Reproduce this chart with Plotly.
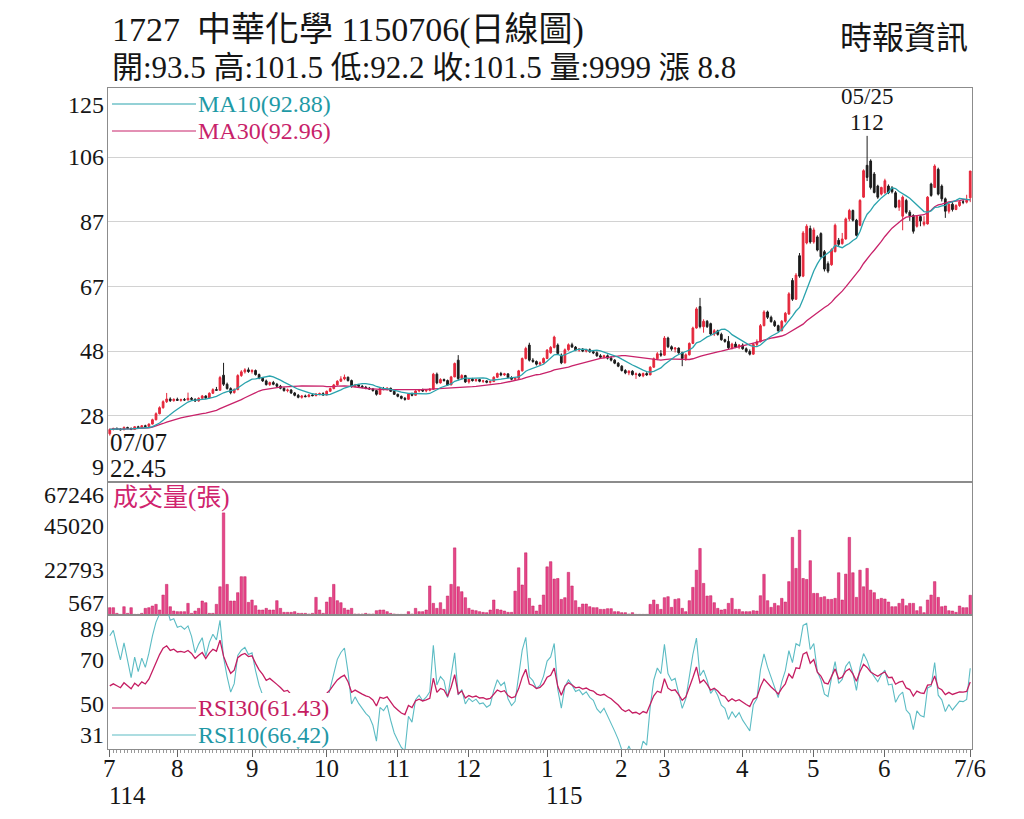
import numpy as np
import pandas as pd
import plotly.graph_objects as go
from plotly.subplots import make_subplots

# ---------------- data ----------------
holidays = ["2025-09-29", "2025-10-06", "2025-10-10", "2025-10-24", "2025-12-25",
            "2026-01-01", "2026-02-12", "2026-02-13", "2026-02-16", "2026-02-17",
            "2026-02-18", "2026-02-19", "2026-02-20", "2026-02-27", "2026-04-03",
            "2026-04-06", "2026-05-01", "2026-06-19"]

opens = [
    23.0, 24.3, 24.6, 24.4, 24.2, 24.9, 24.6, 24.3, 25.1, 24.8,
    25.4, 25.2, 25.9, 27.2, 29.0, 30.8, 32.6, 33.4, 32.9, 33.3,
    33.0, 33.2, 33.1, 33.6, 33.3, 32.8, 33.6, 34.3, 33.7, 35.1,
    36.2, 36.0, 40.5, 37.8, 36.5, 35.3, 36.2, 40.4, 41.5, 42.1,
    41.6, 41.9, 40.7, 39.6, 38.8, 37.7, 38.3, 37.8, 37.2, 36.6,
    35.9, 36.1, 35.2, 34.5, 33.9, 34.3, 34.1, 34.6, 34.4, 34.9,
    35.0, 34.6, 35.7, 36.5, 37.6, 38.7, 39.4, 39.9, 38.9, 37.1,
    37.6, 37.2, 36.9, 36.6, 36.4, 35.9, 34.8, 36.5, 36.3, 36.6,
    35.7, 34.8, 34.2, 33.6, 33.3, 34.9, 34.5, 35.8, 36.1, 35.8,
    36.0, 36.3, 40.8, 38.2, 39.2, 38.9, 37.6, 40.0, 45.0, 39.5,
    40.4, 38.5, 39.3, 38.9, 39.2, 38.7, 38.8, 38.4, 38.6, 39.9,
    41.0, 40.6, 40.9, 39.8, 39.3, 39.6, 41.8, 45.5, 49.5, 45.0,
    44.6, 43.8, 44.2, 45.5, 47.2, 48.8, 49.5, 46.5, 44.2, 48.1,
    49.6, 48.9, 48.0, 48.3, 47.7, 48.1, 47.5, 47.2, 46.3, 45.9,
    46.3, 45.6, 45.0, 44.1, 43.2, 41.9, 41.2, 41.7, 40.7, 40.9,
    40.3, 41.0, 40.6, 42.9, 45.4, 46.9, 46.5, 51.6, 49.0, 48.3,
    48.6, 47.2, 45.5, 46.6, 50.0, 54.6, 61.0, 55.0, 56.6, 55.9,
    52.8, 53.8, 52.7, 51.1, 50.6, 48.7, 49.8, 48.9, 49.5, 48.4,
    47.6, 46.8, 49.7, 50.5, 55.3, 59.4, 57.8, 56.5, 55.3, 53.8,
    56.6, 58.8, 68.8, 63.2, 76.2, 70.1, 80.0, 84.3, 80.3, 81.8,
    82.8, 77.4, 73.8, 73.5, 77.4, 80.8, 79.8, 81.2, 87.2, 89.7,
    86.8, 85.3, 93.7, 103.2, 104.5, 100.6, 97.0, 94.6, 95.0, 97.0,
    96.5, 95.0, 90.7, 88.0, 92.7, 89.2, 88.2, 85.0, 87.9, 85.6,
    85.7, 97.6, 96.6, 102.0, 97.0, 93.2, 89.5, 91.6, 90.0, 91.2,
    92.3, 92.2, 93.5]

highs = [
    24.6, 24.8, 24.9, 24.7, 25.2, 25.1, 24.9, 25.3, 25.4, 25.6,
    25.7, 26.1, 27.5, 29.4, 31.2, 33.0, 35.2, 33.9, 33.6, 33.8,
    33.5, 33.7, 35.3, 34.0, 33.6, 33.9, 34.6, 34.5, 35.4, 36.6,
    37.0, 40.3, 44.2, 38.3, 36.9, 36.6, 40.8, 42.0, 42.6, 42.8,
    42.3, 42.2, 41.0, 39.9, 39.2, 38.6, 38.8, 38.2, 37.6, 36.9,
    36.5, 36.3, 35.5, 34.9, 34.6, 34.7, 34.9, 35.0, 35.1, 35.3,
    35.4, 35.9, 36.8, 37.9, 39.0, 40.2, 40.7, 40.1, 39.2, 37.9,
    37.9, 37.6, 37.3, 37.0, 36.7, 36.1, 36.8, 37.0, 36.9, 36.8,
    35.9, 35.0, 34.4, 34.0, 35.1, 35.3, 36.0, 36.4, 36.5, 36.3,
    36.6, 41.2, 41.3, 39.6, 39.5, 39.2, 40.3, 44.3, 46.5, 40.8,
    40.6, 39.6, 39.7, 39.5, 39.4, 39.1, 39.0, 38.9, 40.2, 41.3,
    41.5, 41.2, 41.1, 40.2, 39.9, 42.1, 45.8, 49.0, 50.2, 45.6,
    44.9, 44.6, 45.8, 48.3, 49.2, 52.3, 50.0, 47.0, 48.5, 50.0,
    50.2, 49.2, 48.6, 48.6, 48.4, 48.5, 47.9, 47.6, 46.8, 46.6,
    46.7, 46.2, 45.3, 44.4, 43.5, 42.3, 42.0, 42.0, 41.3, 41.2,
    41.3, 41.4, 43.2, 45.8, 47.4, 48.0, 52.2, 52.0, 49.4, 48.9,
    48.8, 47.5, 47.0, 50.3, 55.0, 60.8, 63.6, 57.2, 57.0, 56.2,
    54.3, 54.1, 53.2, 51.4, 52.2, 50.2, 50.5, 49.8, 50.0, 48.8,
    48.2, 50.1, 51.2, 55.8, 59.9, 59.8, 58.3, 57.0, 55.6, 57.0,
    59.4, 65.3, 69.5, 71.0, 77.0, 83.6, 85.6, 85.2, 84.6, 82.3,
    83.2, 77.9, 74.5, 78.4, 85.8, 81.5, 83.0, 87.6, 90.2, 90.0,
    87.2, 93.1, 102.0, 112.0, 105.0, 101.2, 97.4, 96.8, 99.2, 97.5,
    97.0, 95.5, 93.0, 94.2, 93.2, 89.8, 88.6, 88.3, 88.2, 88.0,
    94.0, 98.0, 103.5, 102.5, 97.5, 93.6, 92.3, 92.2, 91.6, 92.6,
    93.0, 94.4, 101.5]

lows = [
    22.45, 24.0, 24.2, 24.0, 24.1, 24.4, 24.1, 24.2, 24.6, 24.7,
    25.0, 25.1, 25.8, 27.0, 28.8, 30.5, 32.2, 32.5, 32.6, 32.8,
    32.6, 32.8, 33.0, 33.0, 32.5, 32.6, 33.4, 33.4, 33.6, 34.9,
    35.8, 35.9, 37.3, 36.2, 34.8, 35.0, 36.0, 40.0, 41.0, 41.2,
    41.0, 40.4, 39.3, 38.5, 37.4, 37.3, 37.5, 36.9, 36.3, 35.6,
    35.4, 34.9, 34.2, 33.6, 33.5, 33.9, 33.9, 34.2, 34.2, 34.5,
    34.3, 34.5, 35.5, 36.3, 37.4, 38.5, 39.0, 38.6, 36.8, 36.9,
    36.9, 36.6, 36.3, 36.1, 35.6, 34.4, 34.7, 36.0, 35.9, 35.5,
    34.6, 33.9, 33.3, 32.9, 33.2, 34.2, 34.4, 35.4, 35.5, 35.4,
    35.7, 36.2, 37.8, 38.0, 38.6, 37.3, 37.5, 39.9, 39.0, 39.2,
    38.2, 38.0, 38.6, 38.5, 38.4, 38.2, 38.1, 38.0, 38.5, 39.7,
    40.2, 40.3, 39.6, 39.0, 38.9, 39.4, 41.6, 45.2, 44.6, 44.2,
    43.4, 43.5, 44.0, 45.3, 46.9, 48.5, 46.8, 43.8, 44.0, 47.8,
    48.7, 47.7, 47.5, 47.4, 47.3, 47.2, 46.8, 46.0, 45.6, 45.5,
    45.2, 44.6, 43.8, 42.9, 41.6, 40.8, 40.5, 40.4, 39.4, 40.0,
    39.9, 40.3, 40.5, 42.7, 45.0, 46.0, 46.3, 48.6, 47.8, 47.3,
    46.9, 43.2, 44.8, 46.4, 49.8, 54.4, 54.5, 53.2, 54.6, 52.4,
    52.2, 52.3, 50.8, 50.2, 48.3, 48.2, 48.6, 48.3, 48.1, 47.2,
    46.4, 46.6, 49.2, 50.3, 55.1, 57.3, 56.2, 54.9, 53.3, 53.6,
    56.2, 58.5, 62.7, 63.0, 69.6, 69.8, 79.6, 79.8, 79.8, 77.5,
    75.6, 71.5, 71.0, 73.2, 77.2, 79.0, 79.5, 81.0, 86.5, 86.4,
    82.0, 85.0, 93.5, 98.5, 96.0, 94.8, 93.2, 94.2, 94.7, 94.6,
    94.8, 90.4, 89.6, 83.8, 88.7, 86.6, 82.8, 84.6, 85.0, 85.0,
    85.5, 93.8, 96.4, 94.2, 92.4, 87.5, 88.8, 89.4, 89.8, 90.8,
    91.6, 91.8, 92.2]

closes = [
    24.3, 24.6, 24.4, 24.2, 24.9, 24.6, 24.3, 25.1, 24.8, 25.4,
    25.2, 25.9, 27.2, 29.0, 30.8, 32.6, 33.4, 32.9, 33.3, 33.0,
    33.2, 33.1, 33.6, 33.3, 32.8, 33.6, 34.3, 33.7, 35.1, 36.2,
    36.0, 39.8, 37.8, 36.5, 35.3, 36.2, 40.4, 41.5, 42.1, 41.6,
    41.9, 40.7, 39.6, 38.8, 37.7, 38.3, 37.8, 37.2, 36.6, 35.9,
    36.1, 35.2, 34.5, 33.9, 34.3, 34.1, 34.6, 34.4, 34.9, 35.0,
    34.6, 35.7, 36.5, 37.6, 38.7, 39.4, 39.9, 38.9, 37.1, 37.6,
    37.2, 36.9, 36.6, 36.4, 35.9, 34.8, 36.5, 36.3, 36.6, 35.7,
    34.8, 34.2, 33.6, 33.3, 34.9, 34.5, 35.8, 36.1, 35.8, 36.0,
    36.3, 40.8, 38.2, 39.2, 38.9, 37.6, 40.0, 44.0, 39.5, 40.4,
    38.5, 39.3, 38.9, 39.2, 38.7, 38.8, 38.4, 38.6, 39.9, 41.0,
    40.6, 40.9, 39.8, 39.3, 39.6, 41.8, 45.5, 48.5, 45.0, 44.6,
    43.8, 44.2, 45.5, 48.0, 48.8, 51.9, 47.0, 44.2, 48.1, 49.6,
    48.9, 48.0, 48.3, 47.7, 48.1, 47.5, 47.2, 46.3, 45.9, 46.3,
    45.6, 45.0, 44.1, 43.2, 41.9, 41.2, 41.7, 40.7, 40.9, 40.3,
    41.0, 40.6, 42.9, 45.4, 46.9, 46.5, 51.6, 49.0, 48.3, 48.6,
    47.2, 45.5, 46.6, 50.0, 54.6, 60.3, 55.0, 56.6, 55.0, 52.8,
    53.8, 52.7, 51.1, 50.6, 48.7, 49.8, 48.9, 49.5, 48.4, 47.6,
    46.8, 49.7, 50.5, 55.3, 59.4, 57.8, 56.5, 55.3, 53.8, 56.6,
    59.0, 64.8, 63.2, 70.4, 70.1, 83.0, 85.0, 80.3, 83.9, 77.9,
    75.9, 72.2, 71.6, 78.0, 85.3, 79.6, 81.2, 87.2, 89.7, 86.8,
    82.3, 92.7, 101.6, 99.6, 96.6, 95.1, 93.7, 96.6, 98.6, 95.0,
    95.3, 90.7, 92.7, 93.7, 89.2, 88.1, 83.5, 87.9, 86.6, 86.2,
    93.7, 94.2, 103.0, 94.6, 93.2, 89.5, 91.6, 90.0, 91.2, 92.3,
    92.2, 92.7, 101.5]

volumes = [
    3700, 3700, 840, 340, 4200, 840, 3700, 340, 340, 840,
    3370, 3700, 4550, 5400, 2530, 10100, 15500, 4200, 2020, 1690,
    1690, 1690, 5900, 840, 2020, 3370, 7080, 6230, 840, 840,
    5400, 14300, 51700, 15500, 7080, 7080, 11300, 19400, 19400, 6400,
    7580, 4720, 2530, 2530, 3370, 2530, 2530, 7250, 3370, 1350,
    1350, 1350, 1690, 840, 840, 840, 500, 840, 8930, 2530,
    840, 6570, 8930, 15500, 7250, 6230, 3370, 2530, 3370, 500,
    500, 500, 840, 500, 500, 2190, 2530, 2530, 1690, 840,
    500, 340, 340, 340, 1690, 500, 3370, 1690, 1690, 2530,
    14700, 5900, 3370, 6230, 2860, 9600, 15500, 34000, 14300, 11800,
    8760, 3370, 2530, 2190, 1690, 1350, 1180, 2530, 7580, 2860,
    2530, 2020, 1350, 1350, 12100,
    23900, 15200, 31500, 8430, 4550, 2020, 5060, 10100, 24400, 27000,
    18200, 18500, 7920, 8760, 21600, 14700, 7250, 3880, 5560, 5560,
    4210, 3710, 3710, 2860, 2860, 3200, 3200, 1690, 1690, 1180,
    1180, 500, 1180, 340, 340, 340, 340, 5390, 7580, 5390,
    2860, 8760, 9270, 3880, 7920, 8260, 3370, 1690, 7250, 14000,
    22700, 33700, 16000, 9600, 9770, 6230, 3370, 2530, 2860, 5900,
    8430, 2860, 2860, 1690, 1690, 1690, 2190, 2020, 9770, 20600,
    7250, 3880, 5900, 4720, 8430, 6570, 16900, 39300, 23600, 43000,
    18500, 18000, 27500, 10950, 10950, 8930, 9270, 7920, 7920, 8430,
    21400, 7580, 20700, 39300, 21400, 8930, 22700, 14300, 23600, 12600,
    11300, 7920, 8430, 8090, 6570, 4210, 4210, 5900, 8090, 4720,
    5900, 5900, 2190, 4210, 1180, 7580, 10100, 16900, 8930, 4210,
    4550, 2190, 2020, 1350, 4550, 3710, 3710, 9999]

legend_values = {"MA10": 92.88, "MA30": 92.96, "RSI30": 61.43, "RSI10": 66.42}

# starting state (average gain, average loss) of the RSI smoothing, matched to the
# first RSI values visible in the reference (RSI10 ~80, RSI30 ~58)
rsi_start = {10: (0.20, 0.05), 30: (0.28, 0.20)}

price_tick_labels = ["9", "28", "48", "67", "87", "106", "125"]
volume_tick_labels = ["567", "22793", "45020", "67246"]
rsi_tick_labels = ["31", "50", "70", "89"]

# ---------------- derived series ----------------
n = len(closes)
idx = list(range(n))
dates = pd.bdate_range("2025-07-07", "2026-07-06")
dates = dates[~dates.isin(pd.to_datetime(holidays))][:n]

cs = pd.Series(closes)
ma10 = cs.rolling(10, min_periods=1).mean()
ma30 = cs.rolling(30, min_periods=1).mean()


def rsi(values, p):
    au, ad = rsi_start[p]
    out = [100 * au / (au + ad)]
    for k in range(1, len(values)):
        d = values[k] - values[k - 1]
        au = (au * (p - 1) + max(d, 0)) / p
        ad = (ad * (p - 1) + max(-d, 0)) / p
        out.append(100 * au / (au + ad))
    return out


rsi10 = rsi(closes, 10)
rsi30 = rsi(closes, 30)

# ---------------- styling ----------------
FONT = "Liberation Serif, 'Noto Sans CJK TC', serif"
RED = "#e5283c"
BLK = "#1c1c1c"
TEAL = "#2aa3ad"
MAG = "#c8226a"
RSI_T = "#5cbcc4"
RSI_M = "#c51d62"
PINK = "#e6468a"
PINK_D = "#c2185b"
AX = "#8c8c8c"

W, Hh = 1024, 819
L, R, T, B = 108, 972, 88, 749


def px(x):
    return (x - L) / (R - L)


def py(y):
    return (B - y) / (B - T)


fig = make_subplots(rows=3, cols=1, shared_xaxes=True, vertical_spacing=0,
                    row_heights=[394 / 661, 133 / 661, 134 / 661])

fig.add_trace(go.Candlestick(
    x=idx, open=opens, high=highs, low=lows, close=closes,
    increasing=dict(line=dict(color=RED, width=1), fillcolor=RED),
    decreasing=dict(line=dict(color=BLK, width=1), fillcolor=BLK),
    whiskerwidth=0, showlegend=False, hoverinfo="skip"), row=1, col=1)
fig.add_trace(go.Scatter(x=idx, y=ma30, mode="lines", line=dict(color=MAG, width=1.3),
                         showlegend=False, hoverinfo="skip"), row=1, col=1)
fig.add_trace(go.Scatter(x=idx, y=ma10, mode="lines", line=dict(color=TEAL, width=1.3),
                         showlegend=False, hoverinfo="skip"), row=1, col=1)

fig.add_trace(go.Bar(x=idx, y=volumes, marker=dict(color=PINK, line=dict(color=PINK_D, width=0.5)),
                     showlegend=False, hoverinfo="skip"), row=2, col=1)

fig.add_trace(go.Scatter(x=idx, y=rsi10, mode="lines", line=dict(color=RSI_T, width=1.1),
                         showlegend=False, hoverinfo="skip"), row=3, col=1)
fig.add_trace(go.Scatter(x=idx, y=rsi30, mode="lines", line=dict(color=RSI_M, width=1.3),
                         showlegend=False, hoverinfo="skip"), row=3, col=1)

# ---------------- axes ----------------
price_ticks = list(np.linspace(9, 125, 7))
vol_ticks = list(np.linspace(567, 67246, 4))
rsi_ticks = list(np.linspace(31, 89, 4))

# month start ticks
month_pos, month_txt, year_pos, year_txt = [], [], [], []
prev = None
for i, d in enumerate(dates):
    if prev is None or d.month != prev.month:
        if n - 1 - i >= 5:
            month_pos.append(i)
            month_txt.append(str(d.month))
            if prev is None or d.year != prev.year:
                year_pos.append(i)
                year_txt.append(str(d.year - 1911))
    prev = d
month_pos.append(n - 1)
month_txt.append(f"{dates[-1].month}/{dates[-1].day}")

xcommon = dict(range=[-0.5, n - 0.5], showgrid=False, zeroline=False, showline=True,
               linecolor=AX, linewidth=1, mirror=True, showticklabels=False)
fig.update_xaxes(**xcommon)
fig.update_xaxes(rangeslider=dict(visible=False), ticks="", row=1, col=1)
fig.update_xaxes(ticks="", row=2, col=1)
fig.update_xaxes(tickmode="array", tickvals=month_pos, ticks="outside", ticklen=7,
                 tickcolor="#666",
                 minor=dict(tickmode="linear", tick0=0, dtick=1, ticks="outside",
                            ticklen=3, tickcolor="#9a9a9a", showgrid=False),
                 row=3, col=1)

fig.update_yaxes(range=[8.6, 126.3], tickmode="array", tickvals=price_ticks[1:-1],
                 showticklabels=False, showgrid=True, gridcolor="#d2d2d2", gridwidth=1,
                 zeroline=False, showline=True, linecolor=AX, mirror=True, ticks="",
                 row=1, col=1)
fig.update_yaxes(range=[0, 67350], showticklabels=False, showgrid=False, zeroline=False,
                 showline=True, linecolor=AX, mirror=True, ticks="", row=2, col=1)
fig.update_yaxes(range=[31, 89], showticklabels=False, showgrid=False, zeroline=False,
                 showline=True, linecolor=AX, mirror=True, ticks="", row=3, col=1)

ann = []
TXT = "#161616"


def tick_ann(val, label, yref, shift):
    ann.append(dict(x=0, xref="paper", y=val, yref=yref, text=label, showarrow=False,
                    xanchor="right", yanchor="middle", xshift=-2, yshift=shift,
                    font=dict(family=FONT, size=24, color=TXT)))


for k, (v, lab) in enumerate(zip(price_ticks, price_tick_labels)):
    tick_ann(v, lab, "y", 14 if k == 0 else (-13 if k == len(price_ticks) - 1 else 0))
for k, (v, lab) in enumerate(zip(vol_ticks, volume_tick_labels)):
    tick_ann(v, lab, "y2", 11 if k == 0 else (-13 if k == len(vol_ticks) - 1 else 0))
for k, (v, lab) in enumerate(zip(rsi_ticks, rsi_tick_labels)):
    tick_ann(v, lab, "y3", 14 if k == 0 else (-14 if k == len(rsi_ticks) - 1 else 0))

for pos, lab in zip(month_pos, month_txt):
    ann.append(dict(x=pos, xref="x3", y=py(768), yref="paper", text=lab, showarrow=False,
                    xanchor="center", yanchor="middle",
                    font=dict(family=FONT, size=25, color=TXT)))
for pos, lab in zip(year_pos, year_txt):
    ann.append(dict(x=pos, xref="x3", y=py(795), yref="paper", text=lab, showarrow=False,
                    xanchor="left", yanchor="middle", xshift=-3,
                    font=dict(family=FONT, size=25, color=TXT)))

# header
last = dates[-1]
code_date = f"{last.year - 1911}{last.month:02d}{last.day:02d}"
ann.append(dict(x=px(110), xref="paper", y=py(30), yref="paper",
                text=f"1727\u00a0\u00a0中華化學 {code_date}(日線圖)", showarrow=False,
                xanchor="left", yanchor="middle", font=dict(family=FONT, size=34, color=TXT)))
chg = closes[-1] - closes[-2]
ann.append(dict(x=px(110), xref="paper", y=py(68), yref="paper",
                text=(f"開:{opens[-1]:g} 高:{highs[-1]:g} 低:{lows[-1]:g} "
                      f"收:{closes[-1]:g} 量:{volumes[-1]} 漲 {chg:.1f}"),
                showarrow=False, xanchor="left", yanchor="middle",
                font=dict(family=FONT, size=31, color=TXT)))
ann.append(dict(x=px(970), xref="paper", y=py(38), yref="paper", text="時報資訊",
                showarrow=False, xanchor="right", yanchor="middle",
                font=dict(family=FONT, size=32, color=TXT)))

# high / low markers
imax = int(np.argmax(highs))
imin = int(np.argmin(lows))
ann.append(dict(x=imax, xref="x", y=py(96), yref="paper",
                text=f"{dates[imax].month:02d}/{dates[imax].day:02d}", showarrow=False,
                xanchor="center", yanchor="middle", font=dict(family=FONT, size=23, color=TXT)))
ann.append(dict(x=imax, xref="x", y=py(123), yref="paper", text=f"{highs[imax]:g}",
                showarrow=False, xanchor="center", yanchor="middle",
                font=dict(family=FONT, size=23, color=TXT)))
ann.append(dict(x=imin, xref="x", y=py(443), yref="paper",
                text=f"{dates[imin].month:02d}/{dates[imin].day:02d}", showarrow=False,
                xanchor="left", yanchor="middle", xshift=-2,
                font=dict(family=FONT, size=25, color=TXT)))
ann.append(dict(x=imin, xref="x", y=py(468), yref="paper", text=f"{lows[imin]:g}",
                showarrow=False, xanchor="left", yanchor="middle", xshift=-2,
                font=dict(family=FONT, size=25, color=TXT)))

# legends
shapes = []
shapes.append(dict(type="rect", xref="paper", yref="paper", x0=px(109), x1=px(336),
                   y0=py(747), y1=py(693), fillcolor="white", line=dict(width=0),
                   layer="above"))


def legend(y, name, color, lcolor):
    shapes.append(dict(type="line", xref="paper", yref="paper", x0=px(112), x1=px(196),
                       y0=py(y), y1=py(y), line=dict(color=lcolor, width=1.2), layer="above"))
    ann.append(dict(x=px(196), xref="paper", y=py(y), yref="paper",
                    text=f"{name}({legend_values[name]:.2f})", showarrow=False,
                    xanchor="left", yanchor="middle",
                    font=dict(family=FONT, size=24, color=color)))


legend(104, "MA10", "#1f9aa6", TEAL)
legend(131, "MA30", MAG, MAG)
legend(708, "RSI30", RSI_M, RSI_M)
legend(735, "RSI10", "#1f98a6", RSI_T)

ann.append(dict(x=px(111), xref="paper", y=py(498), yref="paper", text="成交量(張)",
                showarrow=False, xanchor="left", yanchor="middle",
                font=dict(family=FONT, size=25, color="#d0246e")))

fig.update_layout(
    width=W, height=Hh, margin=dict(l=L, r=W - R, t=T, b=Hh - B),
    paper_bgcolor="white", plot_bgcolor="white", bargap=0.3,
    annotations=ann, shapes=shapes, showlegend=False,
    font=dict(family=FONT),
)

fig.write_html("out.html")
